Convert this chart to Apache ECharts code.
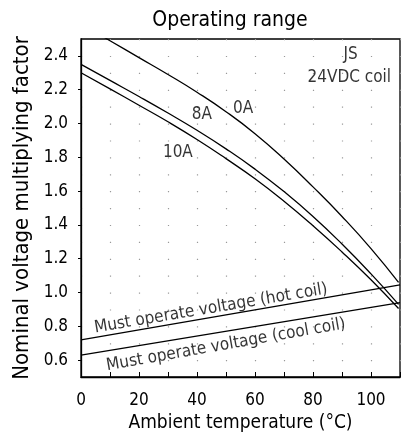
<!DOCTYPE html>
<html lang="en" style="height: 100%">
<head>
  <meta charset="utf-8">
</head>
<body style="height: 100%; margin: 0; background: #fff">
  <div id="container" style="height: 100%"></div>
  <script type="text/javascript" src="https://fastly.jsdelivr.net/npm/echarts@6.0.0/dist/echarts.min.js"></script>
  <script type="text/javascript">
    // temperature (°C) along x, multiplying factor along y
    var temps = [0, 10, 20, 30, 40, 50, 60, 70, 80, 90, 100, 109.5];
    var curve0A = [2.59, 2.49, 2.39, 2.29, 2.185, 2.07, 1.94, 1.79, 1.625, 1.45, 1.26, 1.06];
    var curve8A = [2.35, 2.255, 2.16, 2.062, 1.96, 1.85, 1.73, 1.597, 1.45, 1.287, 1.11, 0.93];
    var curve10A = [2.30, 2.205, 2.108, 2.01, 1.905, 1.792, 1.673, 1.54, 1.395, 1.24, 1.075, 0.905];
    var hotCoil = [[0, 0.72], [110, 1.045]];
    var coolCoil = [[0, 0.63], [110, 0.94]];

    var xLabels = [0, 20, 40, 60, 80, 100];
    var xTicks = [0, 10, 20, 30, 40, 50, 60, 70, 80, 90, 100, 110];
    var yLabels = [0.6, 0.8, 1.0, 1.2, 1.4, 1.6, 1.8, 2.0, 2.2, 2.4];

    // [x, y, text]
    var notes = [
      [55.9, 2.09, '0A'],
      [41.7, 2.05, '8A'],
      [33.4, 1.83, '10A'],
      [93.0, 2.41, 'JS'],
      [92.5, 2.27, '24VDC coil'],
      [44.8, 0.905, 'Must operate voltage (hot coil)'],
      [50.0, 0.69, 'Must operate voltage (cool coil)']
    ];
    var noteAngles = [0, 0, 0, 0, 0, 9.5, 10];

    var FONT = '"Liberation Sans Narrow", "DejaVu Sans Condensed", sans-serif';

    function pairs(xs, ys) {
      return xs.map(function (x, i) { return [x, ys[i]]; });
    }

    var dom = document.getElementById('container');
    var myChart = echarts.init(dom, null, { renderer: 'canvas' });

    var lineStyle = { color: '#000', width: 1.3 };

    var option = {
      animation: false,
      backgroundColor: '#fff',
      title: {
        text: 'Operating range',
        left: 225,
        top: 5,
        textAlign: 'center',
        textStyle: { fontFamily: FONT, fontSize: 21, fontWeight: 'normal', color: '#000' }
      },
      grid: {
        left: 81, right: 9, top: 39, bottom: 58,
        outerBoundsMode: 'none',
        show: true, borderColor: '#000', borderWidth: 1.3
      },
      xAxis: {
        type: 'value', min: 0, max: 110, interval: 10,
        name: 'Ambient temperature (°C)',
        nameLocation: 'middle', nameGap: 33,
        nameTextStyle: { fontFamily: FONT, fontSize: 19, color: '#000' },
        axisLine: { show: true, lineStyle: { color: '#000', width: 1.3 } },
        axisTick: { show: true, inside: true, length: 5, customValues: xTicks, lineStyle: { color: '#000' } },
        axisLabel: { customValues: xLabels, margin: 15, fontFamily: FONT, fontSize: 17, color: '#000' },
        splitLine: { show: true, lineStyle: { color: '#999', width: 1.2, type: [1.2, 15.7] } }
      },
      yAxis: {
        type: 'value', min: 0.5, max: 2.5,
        name: 'Nominal voltage multiplying factor',
        nameLocation: 'middle', nameGap: 47,
        nameTextStyle: { fontFamily: FONT, fontSize: 22, color: '#000' },
        axisLine: { show: true, lineStyle: { color: '#000', width: 1.3 } },
        axisTick: { show: true, inside: false, length: 3, customValues: yLabels, lineStyle: { color: '#000' } },
        axisLabel: {
          customValues: yLabels, margin: 13, fontFamily: FONT, fontSize: 17, color: '#000',
          formatter: function (v) { return v.toFixed(1); }
        },
        splitLine: { show: false }
      },
      series: [
        { type: 'line', data: pairs(temps, curve0A), smooth: true, showSymbol: false, lineStyle: lineStyle, clip: true },
        { type: 'line', data: pairs(temps, curve8A), smooth: true, showSymbol: false, lineStyle: lineStyle, clip: true },
        { type: 'line', data: pairs(temps, curve10A), smooth: true, showSymbol: false, lineStyle: lineStyle, clip: true },
        { type: 'line', data: hotCoil, showSymbol: false, lineStyle: lineStyle },
        { type: 'line', data: coolCoil, showSymbol: false, lineStyle: lineStyle },
        {
          type: 'scatter', symbolSize: 0, silent: true,
          data: notes.map(function (n, i) {
            return {
              value: [n[0], n[1]],
              label: {
                show: true, position: 'inside', formatter: n[2], rotate: noteAngles[i],
                fontFamily: FONT, fontSize: 17, color: '#000'
              }
            };
          })
        }
      ]
    };

    myChart.setOption(option);
    window.addEventListener('resize', myChart.resize);
  </script>
</body>
</html>
